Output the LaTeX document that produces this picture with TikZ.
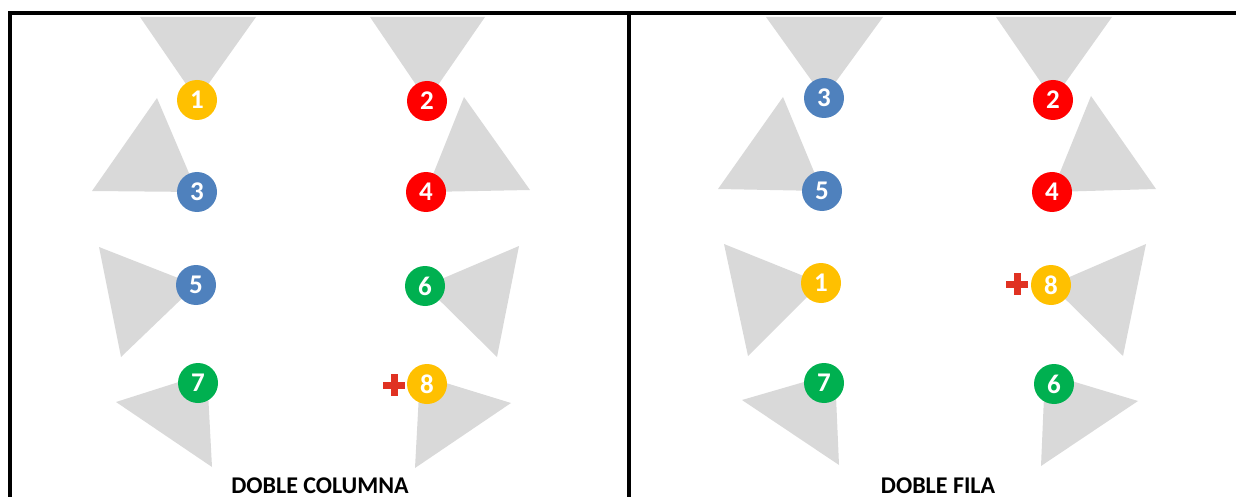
\documentclass[tikz,border=0pt]{standalone}
\usepackage{fontspec}
\setmainfont{Carlito}
\usepackage{tikz}
\usetikzlibrary{backgrounds}
\definecolor{seatYellow}{HTML}{FFC000}
\definecolor{seatRed}{HTML}{FF0000}
\definecolor{seatBlue}{HTML}{4F81BD}
\definecolor{seatGreen}{HTML}{00B050}
\definecolor{coneGray}{HTML}{D9D9D9}
\definecolor{plusRed}{HTML}{E03222}

\begin{document}
\begin{tikzpicture}[x=1pt,y=-1pt,
  seat/.style={circle,fill=#1,minimum size=40pt,inner sep=0pt,text=white,
    font=\bfseries\fontsize{27}{27}\selectfont},
  cone/.style={fill=coneGray},
  frame/.style={line width=4pt,line join=miter},
  plusmark/.style={plusRed,line width=7pt},
  title/.style={anchor=base,font=\bfseries\fontsize{24}{24}\selectfont}]
  \useasboundingbox (0,0) rectangle (1236,497);

  % frame
  \draw[frame] (10,497) -- (10,13) -- (1236,13);
  \draw[frame] (629,13) -- (629,497);

  % seats, left: doble columna
  \foreach \nm/\px/\py/\col/\num in {L1/197/100/seatYellow/1, L2/427/101/seatRed/2,
      L3/197/192/seatBlue/3, L4/426/192/seatRed/4, L5/196/285/seatBlue/5,
      L6/425/286/seatGreen/6, L7/198/383/seatGreen/7, L8/427/384/seatYellow/8}
    \node[seat=\col] (\nm) at (\px,\py) {\num};
  % seats, right: doble fila
  \foreach \nm/\px/\py/\col/\num in {R3/824/98/seatBlue/3, R2/1053/100/seatRed/2,
      R5/822/191/seatBlue/5, R4/1052/192/seatRed/4, R1/821/283/seatYellow/1,
      R8/1051/285/seatYellow/8, R7/824/383/seatGreen/7, R6/1054/384/seatGreen/6}
    \node[seat=\col] (\nm) at (\px,\py) {\num};

  % view cones
  \begin{scope}[on background layer]
    \fill[cone] (L1.center) -- (140,17) -- (256,17) -- cycle;
    \fill[cone] (L2.center) -- (370,17) -- (485,17) -- cycle;
    \fill[cone] (L3.center) -- (157,98) -- (92,191) -- cycle;
    \fill[cone] (L4.center) -- (464,97) -- (530,190) -- cycle;
    \fill[cone] (L5.center) -- (99,247) -- (121,357) -- cycle;
    \fill[cone] (L6.center) -- (519,246) -- (497,357) -- cycle;
    \fill[cone] ([xshift=9pt,yshift=10pt]L7.center) -- (116,402) -- (212,467) -- cycle;
    \fill[cone] ([xshift=-7pt,yshift=9pt]L8.center) -- (511,403) -- (415,468) -- cycle;

    \fill[cone] (R3.center) -- (766,17) -- (883,17) -- cycle;
    \fill[cone] (R2.center) -- (996,17) -- (1112,17) -- cycle;
    \fill[cone] (R5.center) -- (783,97) -- (718,189) -- cycle;
    \fill[cone] (R4.center) -- (1091,96) -- (1156,189) -- cycle;
    \fill[cone] (R1.center) -- (724,244) -- (748,356) -- cycle;
    \fill[cone] (R8.center) -- (1146,244) -- (1123,356) -- cycle;
    \fill[cone] ([xshift=11pt,yshift=10pt]R7.center) -- (742,400) -- (839,465) -- cycle;
    \fill[cone] ([xshift=-9pt,yshift=11pt]R6.center) -- (1138,401) -- (1041,466) -- cycle;
  \end{scope}

  % extra seat marks
  \draw[plusmark] (383,385) -- (405,385) (394,374) -- (394,396);
  \draw[plusmark] (1006,284) -- (1028,284) (1017,273) -- (1017,295);

  \node[title] (colTitle) at (320,493) {DOBLE COLUMNA};
  \node[title] (filaTitle) at (938,493) {DOBLE FILA};
\end{tikzpicture}
\end{document}
